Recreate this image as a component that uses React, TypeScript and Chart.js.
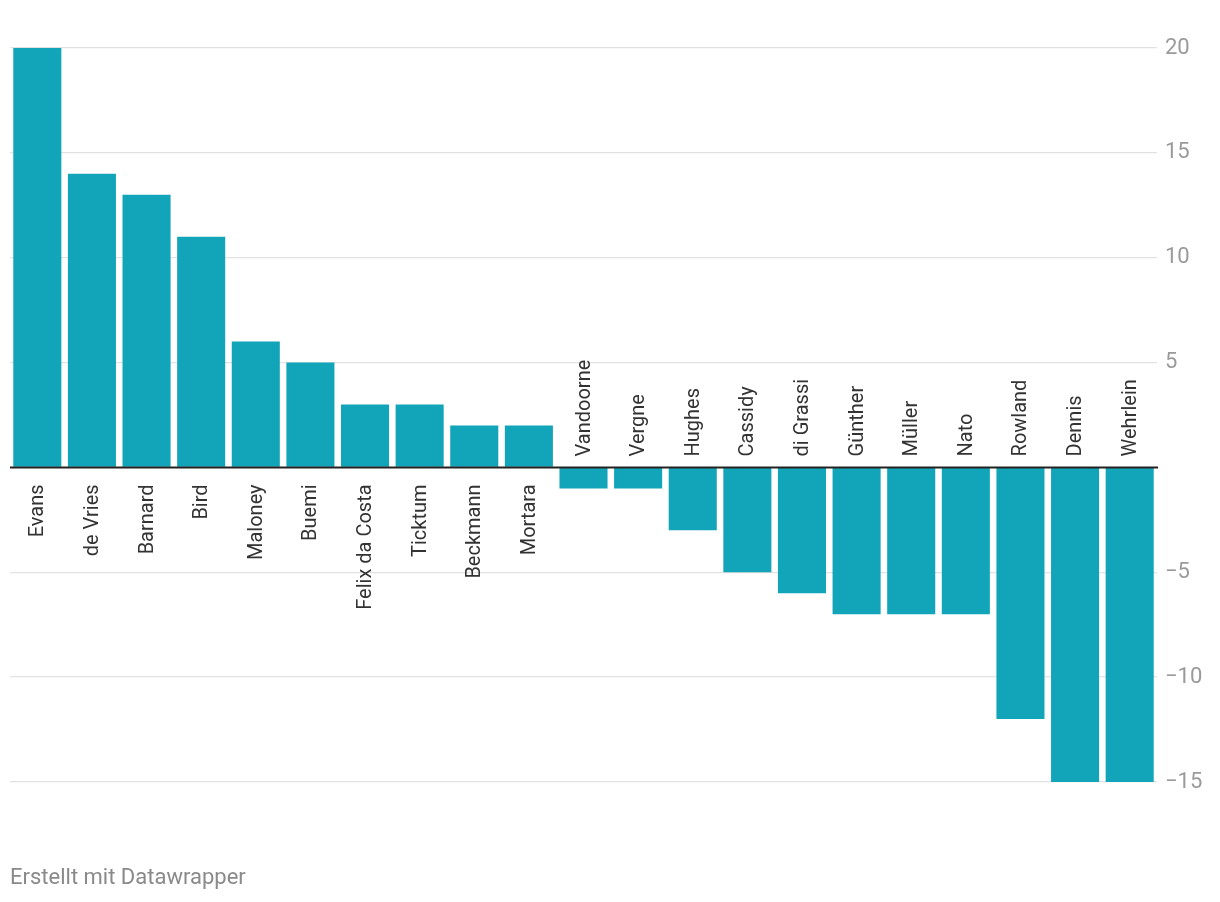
import React, { useEffect, useRef } from "react";
import { Chart, registerables } from "chart.js";

Chart.register(...registerables);

const drivers = [
  "Evans", "de Vries", "Barnard", "Bird", "Maloney", "Buemi", "Felix da Costa",
  "Ticktum", "Beckmann", "Mortara", "Vandoorne", "Vergne", "Hughes", "Cassidy",
  "di Grassi", "Günther", "Müller", "Nato", "Rowland", "Dennis", "Wehrlein",
];
const values = [20, 14, 13, 11, 6, 5, 3, 3, 2, 2, -1, -1, -3, -5, -6, -7, -7, -7, -12, -15, -15];
const tickValues = [20, 15, 10, 5, 0, -5, -10, -15];

const barColor = "#12a5b9";

const labelPlugin = {
  id: "barLabels",
  afterDatasetsDraw(chart: any) {
    const ctx = chart.ctx;
    const meta = chart.getDatasetMeta(0);
    const y0 = chart.scales.y.getPixelForValue(0);
    ctx.save();
    ctx.font = "20px Roboto";
    ctx.fillStyle = "#333333";
    ctx.textBaseline = "middle";
    meta.data.forEach((bar: any, i: number) => {
      const v = values[i];
      ctx.save();
      ctx.translate(bar.x, v >= 0 ? y0 + 17 : y0 - 11);
      ctx.rotate(-Math.PI / 2);
      ctx.textAlign = v >= 0 ? "right" : "left";
      ctx.fillText(drivers[i], 0, 1);
      ctx.restore();
    });
    const area = chart.chartArea;
    ctx.strokeStyle = "#222222";
    ctx.lineWidth = 2;
    ctx.beginPath();
    ctx.moveTo(area.left, y0);
    ctx.lineTo(area.right + 1, y0);
    ctx.stroke();
    ctx.restore();
  },
};

export default function App() {
  const ref = useRef<HTMLCanvasElement>(null);
  useEffect(() => {
    document.body.style.margin = "0";
    const chart = new Chart(ref.current!, {
      type: "bar",
      data: {
        labels: drivers,
        datasets: [
          {
            data: values,
            backgroundColor: barColor,
            barPercentage: 0.88,
            categoryPercentage: 1,
          },
        ],
      },
      options: {
        animation: false,
        responsive: false,
        maintainAspectRatio: false,
        layout: { padding: { left: 10, top: 48, bottom: 120, right: 0 } },
        plugins: { legend: { display: false }, tooltip: { enabled: false } },
        scales: {
          x: { display: false, grid: { display: false } },
          y: {
            position: "right",
            min: -15,
            max: 20,
            afterFit(scale: any) {
              scale.width = 63;
            },
            afterBuildTicks(scale: any) {
              scale.ticks = tickValues.map((v) => ({ value: v }));
            },
            border: { display: false },
            grid: {
              drawTicks: false,
              color: (c: any) => (c.tick && c.tick.value === 0 ? "rgba(0,0,0,0)" : "#e2e2e2"),
              lineWidth: 1.3,
            },
            ticks: {
              padding: 8,
              color: "#9a9a9a",
              font: { family: "Roboto", size: 22 },
              callback: (v: any) => (v === 0 ? "" : v < 0 ? "\u2212" + Math.abs(v) : String(v)),
            },
          },
        },
      },
      plugins: [labelPlugin],
    });
    return () => chart.destroy();
  }, []);
  return (
    <div style={{ position: "relative", width: 1220, height: 902, background: "#fff" }}>
      <canvas ref={ref} width={1220} height={902} style={{ display: "block" }} />
      <div
        style={{
          position: "absolute",
          left: 10,
          top: 864,
          fontFamily: "Roboto",
          fontSize: 22,
          lineHeight: "26px",
          color: "#8a8a8a",
        }}
      >
        Erstellt mit Datawrapper
      </div>
    </div>
  );
}
